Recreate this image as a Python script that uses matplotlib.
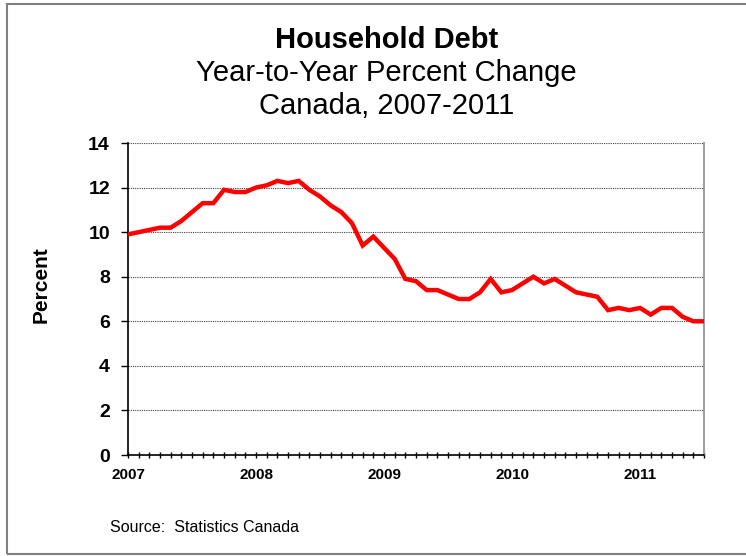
import matplotlib
matplotlib.use("Agg")
import matplotlib.pyplot as plt
from matplotlib.patches import Rectangle

plt.rcParams['font.family'] = ['Liberation Sans', 'DejaVu Sans']

# Monthly year-over-year change in household debt, Jan 2007 - Jul 2011
pct_change = [
    9.9, 10.0, 10.1, 10.2, 10.2, 10.5, 10.9, 11.3, 11.3, 11.9, 11.8, 11.8,   # 2007
    12.0, 12.1, 12.3, 12.2, 12.3, 11.9, 11.6, 11.2, 10.9, 10.4, 9.4, 9.8,    # 2008
    9.3, 8.8, 7.9, 7.8, 7.4, 7.4, 7.2, 7.0, 7.0, 7.3, 7.9, 7.3,              # 2009
    7.4, 7.7, 8.0, 7.7, 7.9, 7.6, 7.3, 7.2, 7.1, 6.5, 6.6, 6.5,              # 2010
    6.6, 6.3, 6.6, 6.6, 6.2, 6.0, 6.0,                                       # 2011
]
year_labels = ["2007", "2008", "2009", "2010", "2011"]
y_ticks = [0, 2, 4, 6, 8, 10, 12, 14]

fig = plt.figure(figsize=(7.46, 5.56), dpi=100)

# outer frame around the whole chart
fig.patches.append(Rectangle((7 / 746, 2 / 556), 745 / 746, 550 / 556,
                             transform=fig.transFigure, fill=False,
                             edgecolor="#808080", linewidth=1.5))

ax = fig.add_axes([128 / 746, 1 - 455 / 556, 576 / 746, 312 / 556])

months = list(range(len(pct_change)))
ax.plot(months, pct_change, color="#ff0000", linewidth=3.2,
        solid_joinstyle="miter", zorder=3)

ax.set_xlim(0, len(pct_change) - 1)
ax.set_ylim(0, 14)

ax.set_yticks(y_ticks)
ax.set_yticklabels([str(v) for v in y_ticks], fontsize=14, fontweight="bold")
ax.tick_params(axis="y", direction="out", length=5, width=1, pad=8)

ax.set_xticks(months, minor=True)
ax.set_xticks([12 * i for i in range(len(year_labels))])
ax.set_xticklabels(year_labels, fontsize=11, fontweight="bold")
ax.tick_params(axis="x", which="both", direction="inout", length=5, width=1, pad=7)

for v in y_ticks[1:]:
    ax.axhline(v, color="#404040", linewidth=0.8, linestyle=(0, (1, 1)), zorder=1)

for side in ["left", "bottom"]:
    ax.spines[side].set_color("black")
    ax.spines[side].set_linewidth(1.2)
ax.spines["top"].set_visible(False)
ax.spines["right"].set_color("#a0a0a0")
ax.spines["right"].set_linewidth(1.5)

ax.set_ylabel("Percent", fontsize=15, fontweight="bold")
ax.yaxis.set_label_coords((51 - 128) / 576, (455 - 285) / 312)

fig.text(0.518, 1 - 40 / 556, "Household Debt", ha="center", va="center",
         fontsize=21, fontweight="bold")
fig.text(0.518, 1 - 73 / 556, "Year-to-Year Percent Change", ha="center",
         va="center", fontsize=21)
fig.text(0.518, 1 - 106 / 556, "Canada, 2007-2011", ha="center", va="center",
         fontsize=21)

fig.text(110 / 746, 1 - 528 / 556, "Source:  Statistics Canada", ha="left",
         va="center", fontsize=11.5)

fig.savefig("out.png", dpi=100)
